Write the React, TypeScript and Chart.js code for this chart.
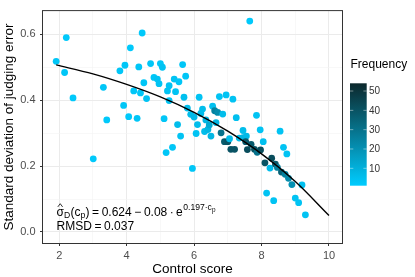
import React, { useEffect, useRef } from "react";
import { Chart, registerables } from "chart.js";

Chart.register(...registerables);

const FONT = '"Liberation Sans", Arial, Helvetica, sans-serif';

// ---- data ----
const controlScore = [
  1.91, 2.21, 2.16, 2.41, 3.01, 3.31, 3.41, 3.80, 3.95, 4.11,
  4.46, 4.36, 4.51, 4.21, 4.41, 4.59, 3.91, 4.06, 4.31, 4.71,
  5.00, 5.06, 4.81, 4.91, 4.96, 5.11, 5.21, 5.26, 5.41, 5.55,
  5.45, 5.66, 5.75, 5.70, 5.26, 5.51, 5.60, 5.80, 5.90, 6.15,
  6.25, 6.20, 6.10, 6.06, 6.31, 6.41, 6.50, 5.17, 5.36, 5.95,
  6.00, 6.35, 6.45, 6.65, 6.55, 6.61, 6.70, 6.85, 6.75, 6.95,
  7.15, 7.25, 7.45, 7.65, 7.85, 6.80, 6.90, 7.00, 7.05, 7.09,
  7.20, 7.34, 7.45, 7.55, 7.53, 7.58, 7.69, 7.79, 7.87, 7.97,
  7.96, 8.05, 8.55, 8.65, 8.75, 8.10, 8.30, 8.25, 8.41, 8.47,
  8.59, 8.70, 8.80, 8.90, 9.20, 8.15, 8.36, 9.00, 9.10, 9.30,
];
const sdError = [
  0.518, 0.590, 0.484, 0.407, 0.222, 0.439, 0.340, 0.489, 0.506, 0.559,
  0.604, 0.501, 0.453, 0.428, 0.422, 0.405, 0.384, 0.350, 0.345, 0.511,
  0.511, 0.500, 0.469, 0.464, 0.450, 0.344, 0.428, 0.444, 0.464, 0.456,
  0.426, 0.508, 0.473, 0.409, 0.399, 0.326, 0.291, 0.376, 0.357, 0.409,
  0.373, 0.360, 0.326, 0.299, 0.305, 0.311, 0.291, 0.241, 0.257, 0.193,
  0.349, 0.340, 0.325, 0.332, 0.382, 0.368, 0.363, 0.358, 0.411, 0.416,
  0.403, 0.347, 0.308, 0.640, 0.354, 0.301, 0.274, 0.274, 0.283, 0.251,
  0.251, 0.285, 0.286, 0.291, 0.274, 0.250, 0.266, 0.251, 0.242, 0.249,
  0.310, 0.274, 0.306, 0.257, 0.237, 0.210, 0.224, 0.194, 0.206, 0.196,
  0.182, 0.175, 0.163, 0.144, 0.143, 0.118, 0.095, 0.103, 0.089, 0.052,
];
const frequency = [
  3, 2, 3, 2, 2, 3, 2, 3, 3, 2,
  2, 3, 3, 3, 3, 4, 3, 2, 3, 3,
  3, 4, 3, 4, 4, 3, 4, 4, 4, 3,
  4, 3, 3, 5, 4, 6, 4, 6, 6, 4,
  6, 6, 6, 4, 6, 8, 8, 3, 3, 3,
  7, 8, 12, 8, 5, 25, 22, 6, 4, 4,
  4, 5, 6, 2, 4, 30, 38, 40, 6, 40,
  40, 6, 8, 7, 38, 42, 38, 40, 30, 42,
  4, 5, 4, 4, 4, 40, 42, 6, 38, 25,
  35, 25, 22, 20, 5, 4, 4, 4, 4, 4,
];

// fitted curve
const curveX = [1.91, 3, 4, 5, 6, 7, 8, 9, 10];
const curveY = [0.507, 0.480, 0.448, 0.410, 0.363, 0.306, 0.237, 0.153, 0.050];

const xTicks = [2, 3, 4, 5, 6, 7, 8, 9, 10];
const yTicks = [0, 0.1, 0.2, 0.3, 0.4, 0.5, 0.6];
const legendTicks = [10, 20, 30, 40, 50];
const freqMin = 1;
const freqMax = 54;

const xTitle = "Control score";
const yTitle = "Standard deviation of judging error";
const legendTitle = "Frequency";

// ---- style ----
const LOW = [0, 204, 255];
const HIGH = [12, 40, 44];

function freqColor(f: number): string {
  const t = Math.max(0, Math.min(1, (f - freqMin) / (freqMax - freqMin)));
  const c = LOW.map((l, i) => Math.round(l + (HIGH[i] - l) * t));
  return `rgb(${c[0]},${c[1]},${c[2]})`;
}

const isMajorX = (v: number) => Math.round(v) % 2 === 0;
const isMajorY = (v: number) => Math.round(v * 10) % 2 === 0;

const decorPlugin = {
  id: "decor",
  afterDatasetsDraw(chart: any) {
    const ctx = chart.ctx as CanvasRenderingContext2D;
    const a = chart.chartArea;
    ctx.save();

    // panel border
    ctx.strokeStyle = "#333333";
    ctx.lineWidth = 1;
    ctx.strokeRect(a.left - 0.5, a.top - 0.5, a.right - a.left + 1, a.bottom - a.top + 1);

    ctx.fillStyle = "#000";
    const big = 12;
    const small = 8.6;
    const tiny = 6.4;
    const base1 = 215.5;
    const base2 = 230;
    let x = a.left + 13.5;
    const seg = (t: string, size: number, base: number, gapAfter = 0) => {
      ctx.font = `${size}px ${FONT}`;
      ctx.textAlign = "left";
      ctx.textBaseline = "alphabetic";
      ctx.fillText(t, x, base);
      const w = ctx.measureText(t).width;
      x += w + gapAfter;
      return w;
    };
    const sx = x;
    const sw = seg("σ", big, base1);
    // hat over sigma
    const cx = sx + sw / 2;
    ctx.beginPath();
    ctx.moveTo(cx - 2.4, base1 - 8.6);
    ctx.lineTo(cx, base1 - 11.8);
    ctx.lineTo(cx + 2.4, base1 - 8.6);
    ctx.lineWidth = 0.8;
    ctx.strokeStyle = "#000";
    ctx.stroke();
    seg("D", small, base1 + 2.6, 0.3);
    seg("(c", big, base1);
    seg("p", small, base1 + 2.6, 0.3);
    seg(")", big, base1, 2.6);
    seg("=", big, base1, 2.6);
    seg("0.624", big, base1, 2.6);
    seg("\u2212", big, base1, 2.6);
    seg("0.08", big, base1, 2.4);
    seg("\u00b7", big, base1, 2.4);
    seg("e", big, base1, 0.5);
    seg("0.197\u00b7c", small, base1 - 5.4);
    seg("p", tiny, base1 - 3.4);

    // line 2
    x = a.left + 13.5;
    seg("RMSD", big, base2, 2.6);
    seg("=", big, base2, 2.6);
    seg("0.037", big, base2);

    // axis titles
    ctx.fillStyle = "#000";
    ctx.font = `13.5px ${FONT}`;
    ctx.textAlign = "center";
    ctx.textBaseline = "alphabetic";
    ctx.fillText(xTitle, (a.left + a.right) / 2, 273);
    ctx.save();
    ctx.translate(13, (a.top + a.bottom) / 2);
    ctx.rotate(-Math.PI / 2);
    ctx.fillText(yTitle, 0, 0);
    ctx.restore();

    // legend
    ctx.font = `12px ${FONT}`;
    ctx.textAlign = "left";
    ctx.fillText(legendTitle, 350.5, 68);
    const barL = 350;
    const barR = 366.7;
    const barTop = 83.3;
    const barBot = 185.7;
    const vy = (v: number) => barBot - ((v - freqMin) / (freqMax - freqMin)) * (barBot - barTop);
    const g = ctx.createLinearGradient(0, barBot, 0, barTop);
    for (let i = 0; i <= 10; i++) {
      const v = freqMin + ((freqMax - freqMin) * i) / 10;
      g.addColorStop(i / 10, freqColor(v));
    }
    ctx.fillStyle = g;
    ctx.fillRect(barL, barTop, barR - barL, barBot - barTop);
    ctx.strokeStyle = "rgba(255,255,255,0.55)";
    ctx.lineWidth = 0.8;
    ctx.font = `10px ${FONT}`;
    ctx.textBaseline = "middle";
    ctx.fillStyle = "#333";
    legendTicks.forEach((v) => {
      const y = vy(v);
      ctx.beginPath();
      ctx.moveTo(barL, y);
      ctx.lineTo(barL + 3.3, y);
      ctx.moveTo(barR - 3.3, y);
      ctx.lineTo(barR, y);
      ctx.stroke();
      ctx.fillText(String(v), barR + 2.2, y + 0.5);
    });

    ctx.restore();
  },
};

export default function App() {
  const ref = useRef<HTMLCanvasElement | null>(null);

  useEffect(() => {
    document.body.style.margin = "0";
    const canvas = ref.current;
    if (!canvas) return;
    const scatterData = controlScore.map((x, i) => ({ x, y: sdError[i] }));
    const lineData = curveX.map((x, i) => ({ x, y: curveY[i] }));
    const chart = new Chart(canvas, {
      type: "scatter",
      data: {
        datasets: [
          {
            type: "line",
            data: lineData,
            showLine: true,
            borderColor: "#000",
            borderWidth: 1.4,
            pointRadius: 0,
            fill: false,
            cubicInterpolationMode: "monotone",
            order: 0,
          } as any,
          {
            data: scatterData,
            pointRadius: 3.4,
            pointBorderWidth: 0,
            pointBackgroundColor: frequency.map(freqColor),
            pointBorderColor: frequency.map(freqColor),
            order: 1,
          } as any,
        ],
      },
      options: {
        responsive: false,
        animation: false,
        devicePixelRatio: 1,
        events: [],
        layout: { padding: { left: 0, top: 3, right: 73, bottom: 0 } },
        plugins: { legend: { display: false }, tooltip: { enabled: false }, title: { display: false } },
        scales: {
          x: {
            type: "linear",
            min: 1.5196,
            max: 10.3855,
            afterBuildTicks: (s: any) => {
              s.ticks = xTicks.map((v) => ({ value: v }));
            },
            afterFit: (s: any) => {
              s.height = 34;
            },
            border: { display: false },
            grid: {
              color: (c: any) => (c.tick && isMajorX(c.tick.value) ? "#EBEBEB" : "#F4F4F4"),
              lineWidth: (c: any) => (c.tick && isMajorX(c.tick.value) ? 1 : 0.6),
              tickColor: (c: any) => (c.tick && isMajorX(c.tick.value) ? "#333333" : "rgba(0,0,0,0)"),
              tickLength: 3,
              drawTicks: true,
            },
            ticks: {
              autoSkip: false,
              maxRotation: 0,
              padding: 3,
              color: "#4D4D4D",
              font: { family: FONT, size: 11 },
              callback: (v: any) => (isMajorX(Number(v)) ? String(v) : ""),
            },
          },
          y: {
            type: "linear",
            min: -0.0334,
            max: 0.6704,
            afterBuildTicks: (s: any) => {
              s.ticks = yTicks.map((v) => ({ value: v }));
            },
            afterFit: (s: any) => {
              s.width = 43;
            },
            border: { display: false },
            grid: {
              color: (c: any) => (c.tick && isMajorY(c.tick.value) ? "#EBEBEB" : "#F4F4F4"),
              lineWidth: (c: any) => (c.tick && isMajorY(c.tick.value) ? 1 : 0.6),
              tickColor: (c: any) => (c.tick && isMajorY(c.tick.value) ? "#333333" : "rgba(0,0,0,0)"),
              tickLength: 3,
              drawTicks: true,
            },
            ticks: {
              autoSkip: false,
              padding: 4.5,
              color: "#4D4D4D",
              font: { family: FONT, size: 11 },
              callback: (v: any) => (isMajorY(Number(v)) ? Number(v).toFixed(1) : ""),
            },
          },
        },
      },
      plugins: [decorPlugin],
    } as any);
    return () => chart.destroy();
  }, []);

  return (
    <div style={{ position: "absolute", left: 0, top: 0, width: 415, height: 277, background: "#fff" }}>
      <canvas ref={ref} width={415} height={277} style={{ display: "block" }} />
    </div>
  );
}
